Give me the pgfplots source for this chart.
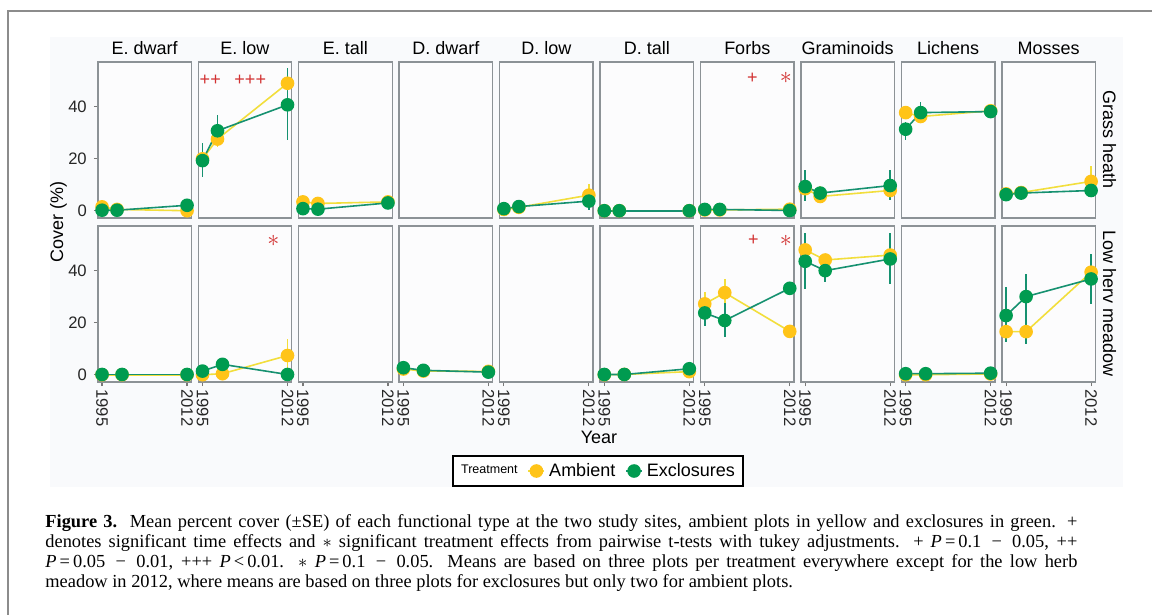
\documentclass[border=0pt]{standalone}
\usepackage{pgfplots}
\pgfplotsset{compat=1.18}
\usepackage{fontspec}
\setmainfont{Liberation Sans}
\newfontfamily\capfont{Liberation Serif}
\definecolor{ambpt}{RGB}{255,196,24}
\definecolor{ambln}{RGB}{242,222,60}
\definecolor{excpt}{RGB}{0,155,80}
\definecolor{excln}{RGB}{22,145,112}
\definecolor{panelgray}{RGB}{140,146,150}
\definecolor{tickgray}{RGB}{120,120,120}
\definecolor{bgc}{RGB}{249,250,252}
\definecolor{panelbg}{RGB}{252,252,253}
\definecolor{sigred}{RGB}{210,50,50}
\definecolor{framegray}{RGB}{140,140,140}
\tikzset{
  sig/.style={text=sigred, font=\fontsize{9}{10}\selectfont, inner sep=0pt},
  star/.style={text=sigred, font=\fontsize{13}{13}\selectfont, inner sep=0pt},
}
\pgfplotsset{
  panel/.style={scale only axis, width=46.75pt, height=78pt, anchor=south west,
    xmin=1994.15, xmax=2012.85, ymin=-2.8, ymax=57.3,
    axis line style={draw=panelgray, line width=0.7pt},
    axis background/.style={fill=panelbg},
    xtick=\empty, ytick=\empty,
    tick style={draw=tickgray, line width=0.6pt}, major tick length=2pt,
    tick align=outside, tick pos=left,
    tick label style={font=\fontsize{8.3}{10}\selectfont, text=black!85},
    title style={at={(0.5,1)}, anchor=base, yshift=-2.5pt, font=\fontsize{9}{10}\selectfont}},
  ycol/.style={ytick={0,20,40}, yticklabels={0,20,40}},
  xrow/.style={xtick={1995,2012}, xticklabels={1995,2012}, xticklabel style={rotate=-90, anchor=west, inner xsep=1.5pt}},
  amb/.style={color=ambln, line width=0.8pt, mark=*, mark size=3pt,
    mark options={fill=ambpt, draw=ambpt},
    error bars/y dir=both, error bars/y explicit, error bars/error mark=none,
    error bars/error bar style={color=ambln, line width=0.8pt}},
  exc/.style={color=excln, line width=0.8pt, mark=*, mark size=3pt,
    mark options={fill=excpt, draw=excpt},
    error bars/y dir=both, error bars/y explicit, error bars/error mark=none,
    error bars/error bar style={color=excln, line width=0.8pt}},
}
\begin{document}
\begin{tikzpicture}
\useasboundingbox (0pt,0pt) rectangle (576pt,-307.5pt);
\fill[bgc] (25pt,-18.5pt) rectangle (561.5pt,-243.5pt);
\draw[framegray, line width=1pt] (4pt,-310pt) -- (4pt,-5.5pt) -- (580pt,-5.5pt);

% ---------------- Grass heath (top row) ----------------
\begin{axis}[panel, ycol, at={(48.9pt,-109pt)}, title={E. dwarf}]
\addplot[amb] coordinates {(1995,1.5) (1998,0.5) (2012,0)};
\addplot[exc] coordinates {(1995,0.2) (1998,0.2) (2012,2.1)};
\end{axis}
\begin{axis}[panel, at={(99.125pt,-109pt)}, title={E. low}]
\addplot[amb] coordinates {(1995,20) (1998,27.6) += (0,2.6) -= (0,2.9) (2012,49.1) += (0,4) -= (0,4)};
\addplot[exc] coordinates {(1995,19.3) += (0,6.7) -= (0,6.3) (1998,30.8) += (0,6.2) -= (0,4.8) (2012,40.8) += (0,14) -= (0,13.5)};
\node[sig] at (axis cs:1996.55,50.4) {++};
\node[sig] at (axis cs:2004.55,50.4) {+++};
\end{axis}
\begin{axis}[panel, at={(149.35pt,-109pt)}, title={E. tall}]
\addplot[amb] coordinates {(1995,3.4) (1998,2.8) (2012,3.4)};
\addplot[exc] coordinates {(1995,0.8) (1998,0.6) (2012,3.0)};
\end{axis}
\begin{axis}[panel, at={(199.575pt,-109pt)}, title={D. dwarf}]
\end{axis}
\begin{axis}[panel, at={(249.8pt,-109pt)}, title={D. low}]
\addplot[amb] coordinates {(1995,0.5) (1998,1.3) (2012,6.0) += (0,4.2) -= (0,4.5)};
\addplot[exc] coordinates {(1995,0.8) (1998,1.6) (2012,3.7) += (0,1) -= (0,3.3)};
\end{axis}
\begin{axis}[panel, at={(300.025pt,-109pt)}, title={D. tall}]
\addplot[amb] coordinates {(1995,0) (1998,0) (2012,0)};
\addplot[exc] coordinates {(1995,0) (1998,0) (2012,0)};
\end{axis}
\begin{axis}[panel, at={(350.25pt,-109pt)}, title={Forbs}]
\addplot[amb] coordinates {(1995,0.3) (1998,0.3) (2012,0.6)};
\addplot[exc] coordinates {(1995,0.5) (1998,0.5) (2012,0.1)};
\node[sig] at (axis cs:2004.5,50.9) {+};
\node[star] at (axis cs:2011.2,51) {$\ast$};
\end{axis}
\begin{axis}[panel, at={(400.475pt,-109pt)}, title={Graminoids}]
\addplot[amb] coordinates {(1995,8.5) (1998,5.5) += (0,4.2) -= (0,1.9) (2012,7.8) += (0,3.2) -= (0,3.8)};
\addplot[exc] coordinates {(1995,9.3) += (0,6.5) -= (0,5.7) (1998,6.8) (2012,9.7) += (0,6.1) -= (0,5.5)};
\end{axis}
\begin{axis}[panel, at={(450.7pt,-109pt)}, title={Lichens}]
\addplot[amb] coordinates {(1995,37.8) (1998,36.3) += (0,2.7) -= (0,2.3) (2012,38.5) += (0,2.5) -= (0,2.5)};
\addplot[exc] coordinates {(1995,31.4) += (0,2.9) -= (0,4.1) (1998,37.8) += (0,3.9) -= (0,2.8) (2012,38.2) += (0,2.3) -= (0,2.2)};
\end{axis}
\begin{axis}[panel, at={(500.925pt,-109pt)}, title={Mosses}]
\addplot[amb] coordinates {(1995,6.5) (1998,7.0) (2012,11.3) += (0,6.1) -= (0,3.8)};
\addplot[exc] coordinates {(1995,6.2) (1998,6.8) (2012,7.8) += (0,2.2) -= (0,1.8)};
\end{axis}

% ---------------- Low herv meadow (bottom row) ----------------
\begin{axis}[panel, ycol, xrow, at={(48.9pt,-191pt)},
  legend style={at={(5.35,-0.5705)}, anchor=center, draw=black, line width=1pt, fill=white,
    font=\fontsize{9}{10}\selectfont, legend columns=-1, inner xsep=2pt, inner ysep=1.5pt,
    /tikz/every even column/.append style={column sep=3pt}},
  legend image code/.code={\draw[mark repeat=2, mark phase=2, #1] plot coordinates {(0pt,0pt) (4pt,0pt) (8pt,0pt)};}]
\addlegendimage{empty legend}
\addlegendentry{\fontsize{6.25}{7}\selectfont Treatment}
\addplot[amb] coordinates {(1995,0) (1999,0) (2012,0)};
\addlegendentry{Ambient}
\addplot[exc] coordinates {(1995,0.1) (1999,0.1) (2012,0.1)};
\addlegendentry{Exclosures}
\end{axis}
\begin{axis}[panel, xrow, at={(99.125pt,-191pt)}]
\addplot[amb] coordinates {(1995,0) (1999,0.4) (2012,7.4) += (0,6.4) -= (0,5.9)};
\addplot[exc] coordinates {(1995,1.4) (1999,4.0) (2012,0.1)};
\node[star] at (axis cs:2009.15,51.4) {$\ast$};
\end{axis}
\begin{axis}[panel, xrow, at={(149.35pt,-191pt)}]
\end{axis}
\begin{axis}[panel, xrow, at={(199.575pt,-191pt)}]
\addplot[amb] coordinates {(1995,2.2) (1999,1.4) (2012,1.3)};
\addplot[exc] coordinates {(1995,2.7) (1999,1.7) (2012,1.0)};
\end{axis}
\begin{axis}[panel, xrow, at={(249.8pt,-191pt)}]
\end{axis}
\begin{axis}[panel, xrow, at={(300.025pt,-191pt)}]
\addplot[amb] coordinates {(1995,0) (1999,0.1) (2012,1.2)};
\addplot[exc] coordinates {(1995,0.1) (1999,0.1) (2012,2.3)};
\end{axis}
\begin{axis}[panel, xrow, at={(350.25pt,-191pt)}]
\addplot[amb] coordinates {(1995,27.3) += (0,4.4) -= (0,4.3) (1999,31.6) += (0,5.2) -= (0,4.6) (2012,16.7)};
\addplot[exc] coordinates {(1995,23.8) += (0,3.8) -= (0,5.0) (1999,20.9) += (0,6.6) -= (0,6.4) (2012,33.3)};
\node[sig] at (axis cs:2004.7,51.6) {+};
\node[star] at (axis cs:2011.2,51.6) {$\ast$};
\end{axis}
\begin{axis}[panel, xrow, at={(400.475pt,-191pt)}]
\addplot[amb] coordinates {(1995,48.1) (1999,44.2) (2012,46.1)};
\addplot[exc] coordinates {(1995,43.7) += (0,10.8) -= (0,10.7) (1999,40.1) += (0,4.4) -= (0,4.5) (2012,44.6) += (0,9.9) -= (0,9.6)};
\end{axis}
\begin{axis}[panel, xrow, at={(450.7pt,-191pt)}]
\addplot[amb] coordinates {(1995,0) (1999,0) (2012,0.3)};
\addplot[exc] coordinates {(1995,0.4) (1999,0.4) (2012,0.6)};
\end{axis}
\begin{axis}[panel, xrow, at={(500.925pt,-191pt)}]
\addplot[amb] coordinates {(1995,16.6) += (0,4) -= (0,4) (1999,16.6) += (0,4) -= (0,4.7) (2012,39.5) += (0,5) -= (0,6)};
\addplot[exc] coordinates {(1995,22.8) += (0,10.9) -= (0,10.3) (1999,30.1) += (0,8.7) -= (0,18.2) (2012,36.9) += (0,9.6) -= (0,9.6)};
\end{axis}

% ---------------- labels ----------------
\node[font=\fontsize{9}{10}\selectfont, anchor=base] at (299.5pt,-221.5pt) {Year};
\node[font=\fontsize{9}{10}\selectfont, anchor=base, rotate=90] at (31.5pt,-111pt) {Cover (\%)};
\node[font=\fontsize{9}{10}\selectfont, anchor=base, rotate=-90] at (551.5pt,-70pt) {Grass heath};
\node[font=\fontsize{9}{10}\selectfont, anchor=base, rotate=-90] at (551.5pt,-151.75pt) {Low herv meadow};

\node[anchor=north west, inner sep=0pt, text width=516pt, align=justify,
  font=\capfont\fontsize{9.2}{10}\selectfont] at (22.5pt,-257pt)
{\textbf{Figure 3.}\ \ Mean percent cover (±SE) of each functional type at the two study sites, ambient plots in yellow and exclosures in green. +\linebreak
denotes significant time effects and $\ast$ significant treatment effects from pairwise t-tests with tukey adjustments. + \textit{P}\,=\,0.1 \,−\, 0.05, ++\linebreak
\textit{P}\,=\,0.05 \,−\, 0.01, +++ \textit{P}\,<\,0.01. $\ast$ \textit{P}\,=\,0.1 \,−\, 0.05. Means are based on three plots per treatment everywhere except for the low herb\linebreak
meadow in 2012, where means are based on three plots for exclosures but only two for ambient plots.};
\end{tikzpicture}
\end{document}
